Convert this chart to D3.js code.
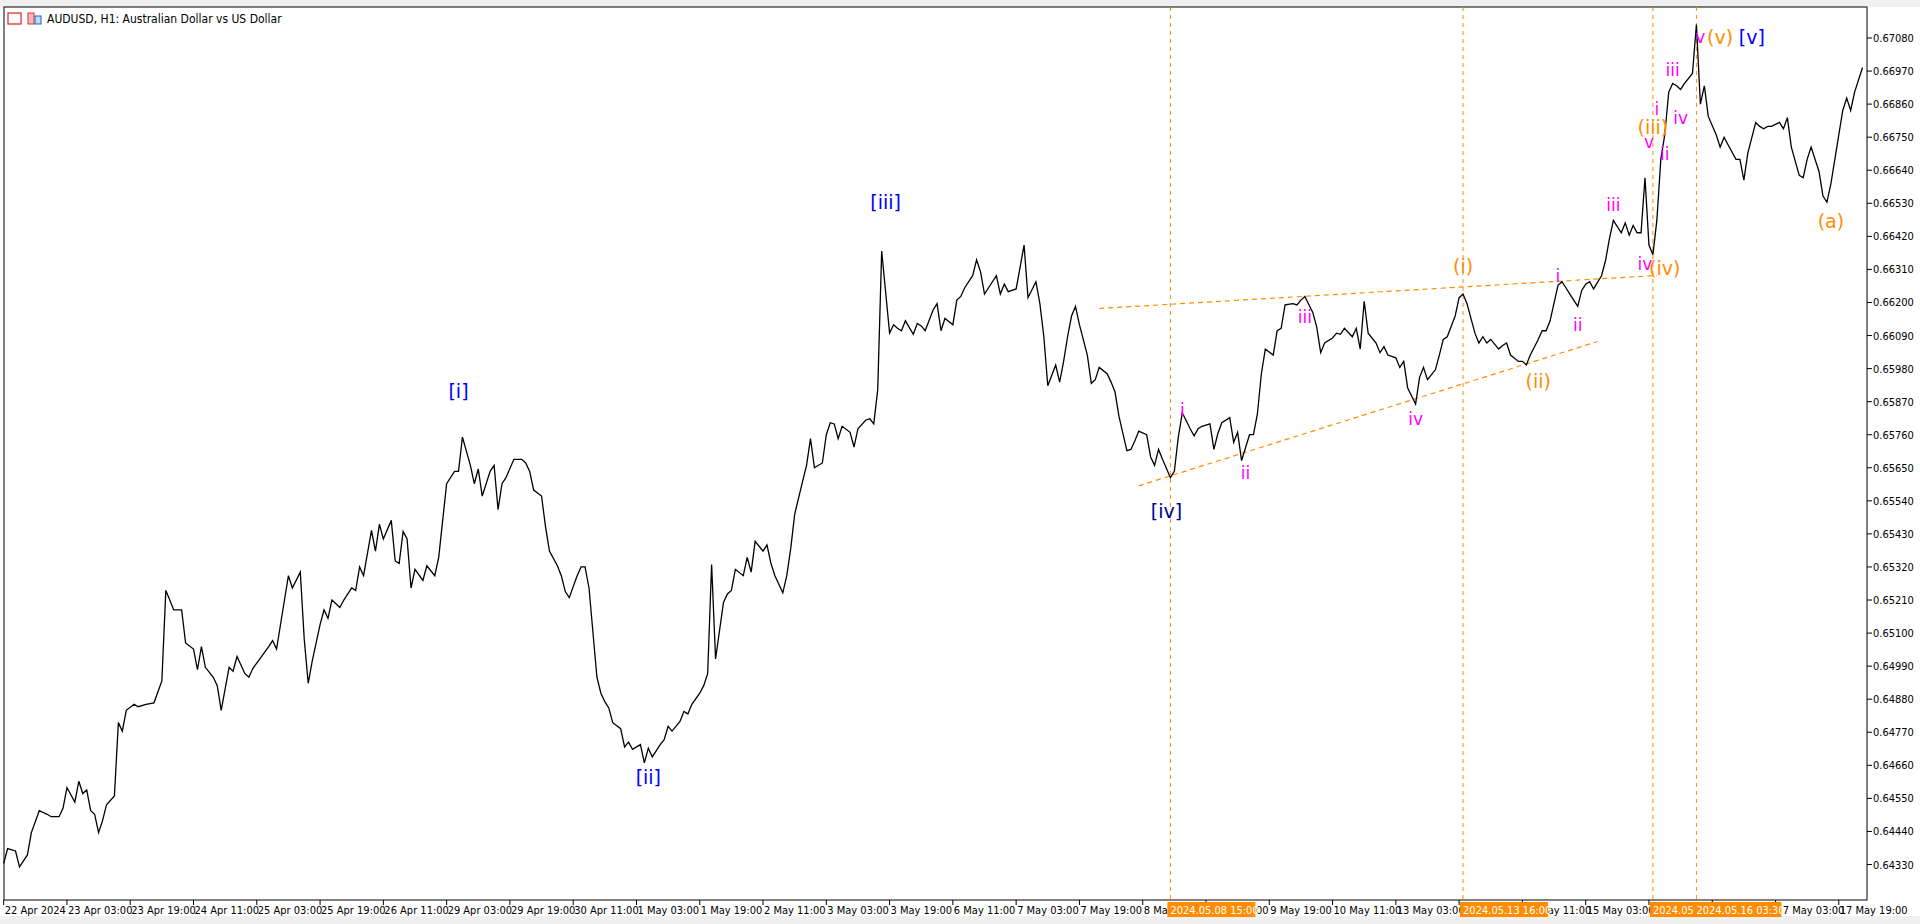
<!DOCTYPE html>
<html><head><meta charset="utf-8">
<script src="https://cdn.jsdelivr.net/npm/d3@7"></script>
<style>body{margin:0;background:#fff;overflow:hidden}svg{display:block}</style>
</head><body><svg id="c" width="1920" height="924"></svg>
<script>
// [bar index (hours from 22 Apr 11:00), close price]
const pricePoints = [
[0,.64334],[1,.64383],[3,.64375],[4,.64322],[6,.64362],[7,.64436],[9,.64509],[11,.64497],[12,.64489],[14,.64489],[15,.64517],[16,.64586],[18,.64538],[19,.64607],[20,.64566],[21,.64578],[22,.64509],[23,.64497],[24,.64436],[25,.64476],[26,.64529],[28,.64558],[29,.64802],[30,.64774],[31,.64843],[33,.64863],[34,.64855],[36,.64863],[38,.64868],[40,.64941],[41,.65242],[42,.65210],[43,.65177],[45,.65177],[46,.65067],[48,.65047],[49,.64978],[50,.65055],[51,.64986],[53,.64953],[54,.64925],[55,.64843],[57,.64986],[58,.64973],[59,.65022],[61,.64965],[62,.64953],[63,.64982],[65,.65018],[67,.65055],[68,.65075],[69,.65047],[71,.65210],[72,.65291],[73,.65250],[75,.65303],[76,.65079],[77,.64933],[78,.65006],[80,.65128],[81,.65177],[82,.65149],[83,.65210],[85,.65185],[86,.65210],[88,.65250],[89,.65242],[90,.65320],[91,.65291],[93,.65442],[94,.65373],[95,.65462],[96,.65413],[98,.65475],[99,.65340],[100,.65332],[101,.65438],[102,.65413],[103,.65250],[104,.65312],[106,.65275],[107,.65324],[109,.65291],[110,.65352],[111,.65475],[112,.65597],[114,.65638],[115,.65638],[116,.65752],[118,.65658],[119,.65597],[120,.65646],[121,.65556],[123,.65638],[124,.65658],[125,.65511],[126,.65597],[127,.65617],[129,.65678],[131,.65678],[132,.65666],[133,.65638],[134,.65576],[136,.65556],[137,.65454],[138,.65373],[140,.65324],[141,.65291],[142,.65238],[143,.65218],[145,.65291],[146,.65320],[147,.65320],[148,.65250],[150,.64953],[151,.64900],[152,.64872],[153,.64851],[154,.64802],[156,.64782],[157,.64721],[158,.64737],[159,.64713],[161,.64729],[162,.64668],[163,.64717],[164,.64688],[166,.64729],[167,.64745],[168,.64790],[169,.64774],[171,.64806],[172,.64839],[173,.64831],[174,.64863],[176,.64900],[177,.64925],[178,.64965],[179,.65328],[180,.65014],[182,.65202],[183,.65230],[184,.65242],[185,.65312],[187,.65291],[188,.65352],[189,.65303],[190,.65405],[192,.65373],[193,.65393],[194,.65332],[195,.65291],[197,.65234],[198,.65291],[199,.65381],[200,.65495],[202,.65605],[203,.65658],[204,.65747],[205,.65650],[207,.65666],[208,.65760],[209,.65800],[210,.65796],[211,.65747],[212,.65788],[214,.65768],[215,.65719],[216,.65780],[218,.65809],[219,.65813],[220,.65796],[221,.65910],[222,.66371],[224,.66098],[225,.66126],[226,.66114],[227,.66106],[228,.66139],[230,.66094],[231,.66130],[232,.66122],[233,.66106],[235,.66175],[236,.66196],[237,.66106],[238,.66147],[240,.66126],[241,.66208],[242,.66220],[243,.66249],[245,.66289],[246,.66342],[247,.66302],[248,.66228],[250,.66269],[251,.66289],[252,.66228],[253,.66261],[254,.66236],[256,.66245],[257,.66318],[258,.66391],[259,.66216],[261,.66269],[262,.66196],[263,.66086],[264,.65923],[266,.65992],[267,.65935],[268,.66004],[269,.66086],[270,.66155],[271,.66187],[272,.66126],[274,.66025],[275,.65931],[276,.65943],[277,.65984],[279,.65963],[280,.65935],[281,.65902],[282,.65821],[284,.65707],[285,.65711],[286,.65739],[287,.65772],[289,.65760],[290,.65686],[291,.65658],[292,.65711],[293,.65678],[295,.65617],[296,.65638],[297,.65752],[298,.65833],[300,.65780],[301,.65756],[302,.65780],[303,.65788],[305,.65796],[306,.65711],[307,.65764],[308,.65800],[310,.65817],[311,.65735],[312,.65768],[313,.65674],[315,.65760],[316,.65760],[317,.65829],[318,.65963],[319,.66045],[321,.66025],[322,.66106],[323,.66114],[324,.66192],[326,.66196],[327,.66192],[328,.66208],[329,.66220],[331,.66167],[332,.66118],[333,.66033],[334,.66065],[336,.66082],[337,.66098],[338,.66094],[339,.66114],[341,.66086],[342,.66114],[343,.66045],[344,.66204],[345,.66098],[347,.66065],[348,.66033],[349,.66053],[350,.66025],[352,.66016],[353,.65984],[354,.66004],[355,.65915],[357,.65862],[358,.65951],[359,.65984],[360,.65943],[362,.65976],[363,.66025],[364,.66077],[365,.66086],[367,.66155],[368,.66216],[369,.66228],[370,.66196],[372,.66098],[373,.66065],[374,.66086],[375,.66065],[376,.66077],[378,.66045],[379,.66057],[380,.66065],[381,.66025],[383,.66004],[384,.66004],[385,.65992],[386,.66025],[388,.66077],[389,.66106],[390,.66106],[391,.66139],[393,.66257],[394,.66269],[395,.66249],[396,.66228],[398,.66187],[399,.66240],[400,.66261],[401,.66269],[402,.66245],[404,.66289],[405,.66338],[406,.66412],[407,.66473],[409,.66432],[410,.66465],[411,.66424],[412,.66456],[413,.66432],[414,.66432],[415,.66615],[416,.66391],[417,.66359],[418,.66473],[419,.66676],[420,.66758],[421,.66900],[422,.66929],[423,.66921],[424,.66909],[425,.66929],[427,.66962],[428,.67125],[429,.66860],[430,.66921],[431,.66819],[433,.66758],[434,.66717],[435,.66750],[436,.66725],[438,.66676],[439,.66676],[440,.66607],[441,.66697],[443,.66799],[444,.66786],[445,.66778],[446,.66786],[447,.66786],[449,.66799],[450,.66778],[451,.66815],[452,.66717],[454,.66623],[455,.66615],[456,.66676],[457,.66717],[459,.66636],[460,.66554],[461,.66534],[462,.66595],[464,.66758],[465,.66839],[466,.66880],[467,.66839],[468,.66900],[470,.66982]
];
const priceTicks = [0.67080,0.66970,0.66860,0.66750,0.66640,0.66530,0.66420,0.66310,0.66200,0.66090,0.65980,0.65870,0.65760,0.65650,0.65540,0.65430,0.65320,0.65210,0.65100,0.64990,0.64880,0.64770,0.64660,0.64550,0.64440,0.64330];
const timeTickLabels = ["22 Apr 2024","23 Apr 03:00","23 Apr 19:00","24 Apr 11:00","25 Apr 03:00","25 Apr 19:00","26 Apr 11:00","29 Apr 03:00","29 Apr 19:00","30 Apr 11:00","1 May 03:00","1 May 19:00","2 May 11:00","3 May 03:00","3 May 19:00","6 May 11:00","7 May 03:00","7 May 19:00","8 May 11:00","9 May 03:00","9 May 19:00","10 May 11:00","13 May 03:00","13 May 19:00","14 May 11:00","15 May 03:00","15 May 19:00","16 May 11:00","17 May 03:00","17 May 19:00"];
const vLines = [[295,"2024.05.08 15:00"],[369,"2024.05.13 16:00"],[417,"2024.05.15 16:45"],[428,"2024.05.16 03:30"]];
// wave labels: [bar, price, text, colour group]
const waveLabels = [
[115,.65900,"[i]","b"],[163,.64615,"[ii]","b"],[223,.66530,"[iii]","b"],[294,.65500,"[iv]","n"],[442,.67080,"[v]","b"],
[298,.65840,"i","m"],[314,.65630,"ii","m"],[329,.66150,"iii","m"],[357,.65810,"iv","m"],
[393,.66285,"i","m"],[398,.66122,"ii","m"],[407,.66522,"iii","m"],[415,.66326,"iv","m"],[416,.66730,"v","m"],
[418,.66840,"i","m"],[420,.66690,"ii","m"],[422,.66970,"iii","m"],[424,.66810,"iv","m"],[429,.67080,"v","m"],
[369,.66318,"(i)","o"],[388,.65935,"(ii)","o"],[417,.66780,"(iii)","o"],[420,.66310,"(iv)","o"],[434,.67080,"(v)","o"],[462,.66465,"(a)","o"]
];
const trendLines = [[[277,.66180],[418,.66290]],[[287,.65590],[403,.66070]]];

const FONT="'DejaVu Sans Condensed', 'Liberation Sans Narrow', 'DejaVu Sans', sans-serif";
const svg = d3.select("#c");
const L=4,T=7,R=1867,B=900;
const x = d3.scaleLinear().domain([0,1]).range([3.67,3.67+3.955]);
const y = d3.scaleLinear().domain([0.64330,0.67080]).range([864.5,38]);
const colors={b:"#0000ff",n:"#000090",m:"#ff00ff",o:"#ff8c00"};

svg.append("rect").attr("x",0).attr("y",0).attr("width",1920).attr("height",T).attr("fill","#f0f0f0");
svg.append("rect").attr("x",0).attr("y",916).attr("width",1920).attr("height",8).attr("fill","#f0f0f0");
svg.append("rect").attr("x",L).attr("y",T).attr("width",R-L).attr("height",B-T).attr("fill","#fff").attr("stroke","#000").attr("stroke-width",1);

const ya = svg.append("g").attr("font-family",FONT).attr("font-size",11).attr("font-stretch","condensed");
priceTicks.forEach(p=>{
  ya.append("line").attr("x1",R).attr("x2",R+5).attr("y1",y(p)).attr("y2",y(p)).attr("stroke","#000");
  ya.append("text").attr("x",R+6).attr("y",y(p)+4).text(p.toFixed(5));
});
const xa = svg.append("g").attr("font-family",FONT).attr("font-size",11).attr("font-stretch","condensed");
timeTickLabels.forEach((t,k)=>{
  const xx=x(k*16);
  xa.append("line").attr("x1",xx).attr("x2",xx).attr("y1",B).attr("y2",B+5).attr("stroke","#000");
  xa.append("text").attr("x",xx+1).attr("y",B+14).text(t);
});

vLines.forEach(([i,t])=>{
  svg.append("line").attr("x1",x(i)).attr("x2",x(i)).attr("y1",T).attr("y2",B).attr("stroke","#ff8c00").attr("stroke-dasharray","4,4").attr("stroke-width",1);
});
vLines.forEach(([i,t])=>{
  svg.append("rect").attr("x",x(i)-3).attr("y",B+2).attr("width",88).attr("height",15).attr("fill","#ff8c00");
  svg.append("text").attr("x",x(i)).attr("y",B+14).attr("fill","#fff").attr("font-family",FONT).attr("font-size",11).attr("font-stretch","condensed").text(t);
});

trendLines.forEach(tl=>{
  svg.append("line").attr("x1",x(tl[0][0])).attr("y1",y(tl[0][1])).attr("x2",x(tl[1][0])).attr("y2",y(tl[1][1]))
    .attr("stroke","#ff8c00").attr("stroke-dasharray","5,4").attr("stroke-width",1.2);
});

svg.append("path").datum(pricePoints).attr("fill","none").attr("stroke","#000").attr("stroke-width",1.3)
  .attr("d",d3.line().x(d=>x(d[0])).y(d=>y(d[1])));

waveLabels.forEach(([i,p,t,c])=>{
  svg.append("text").attr("x",x(i)).attr("y",y(p)).attr("text-anchor","middle").attr("dominant-baseline","middle")
    .attr("fill",colors[c]).attr("font-family","Tahoma, 'DejaVu Sans', sans-serif").attr("font-size",c==="m"?17:19).text(t);
});

const tg=svg.append("g");
tg.append("rect").attr("x",8).attr("y",13).attr("width",13).attr("height",11).attr("fill","none").attr("stroke","#e03030").attr("stroke-width",1.3);
tg.append("rect").attr("x",28).attr("y",13).attr("width",6).attr("height",11).attr("fill","#fbb").attr("stroke","#e03030");
tg.append("rect").attr("x",35).attr("y",16).attr("width",6).attr("height",8).attr("fill","#bde").attr("stroke","#2060c0");
tg.append("text").attr("x",47).attr("y",23).attr("font-family",FONT).attr("font-size",12).attr("font-stretch","condensed").text("AUDUSD, H1:  Australian Dollar vs US Dollar");
</script></body></html>
